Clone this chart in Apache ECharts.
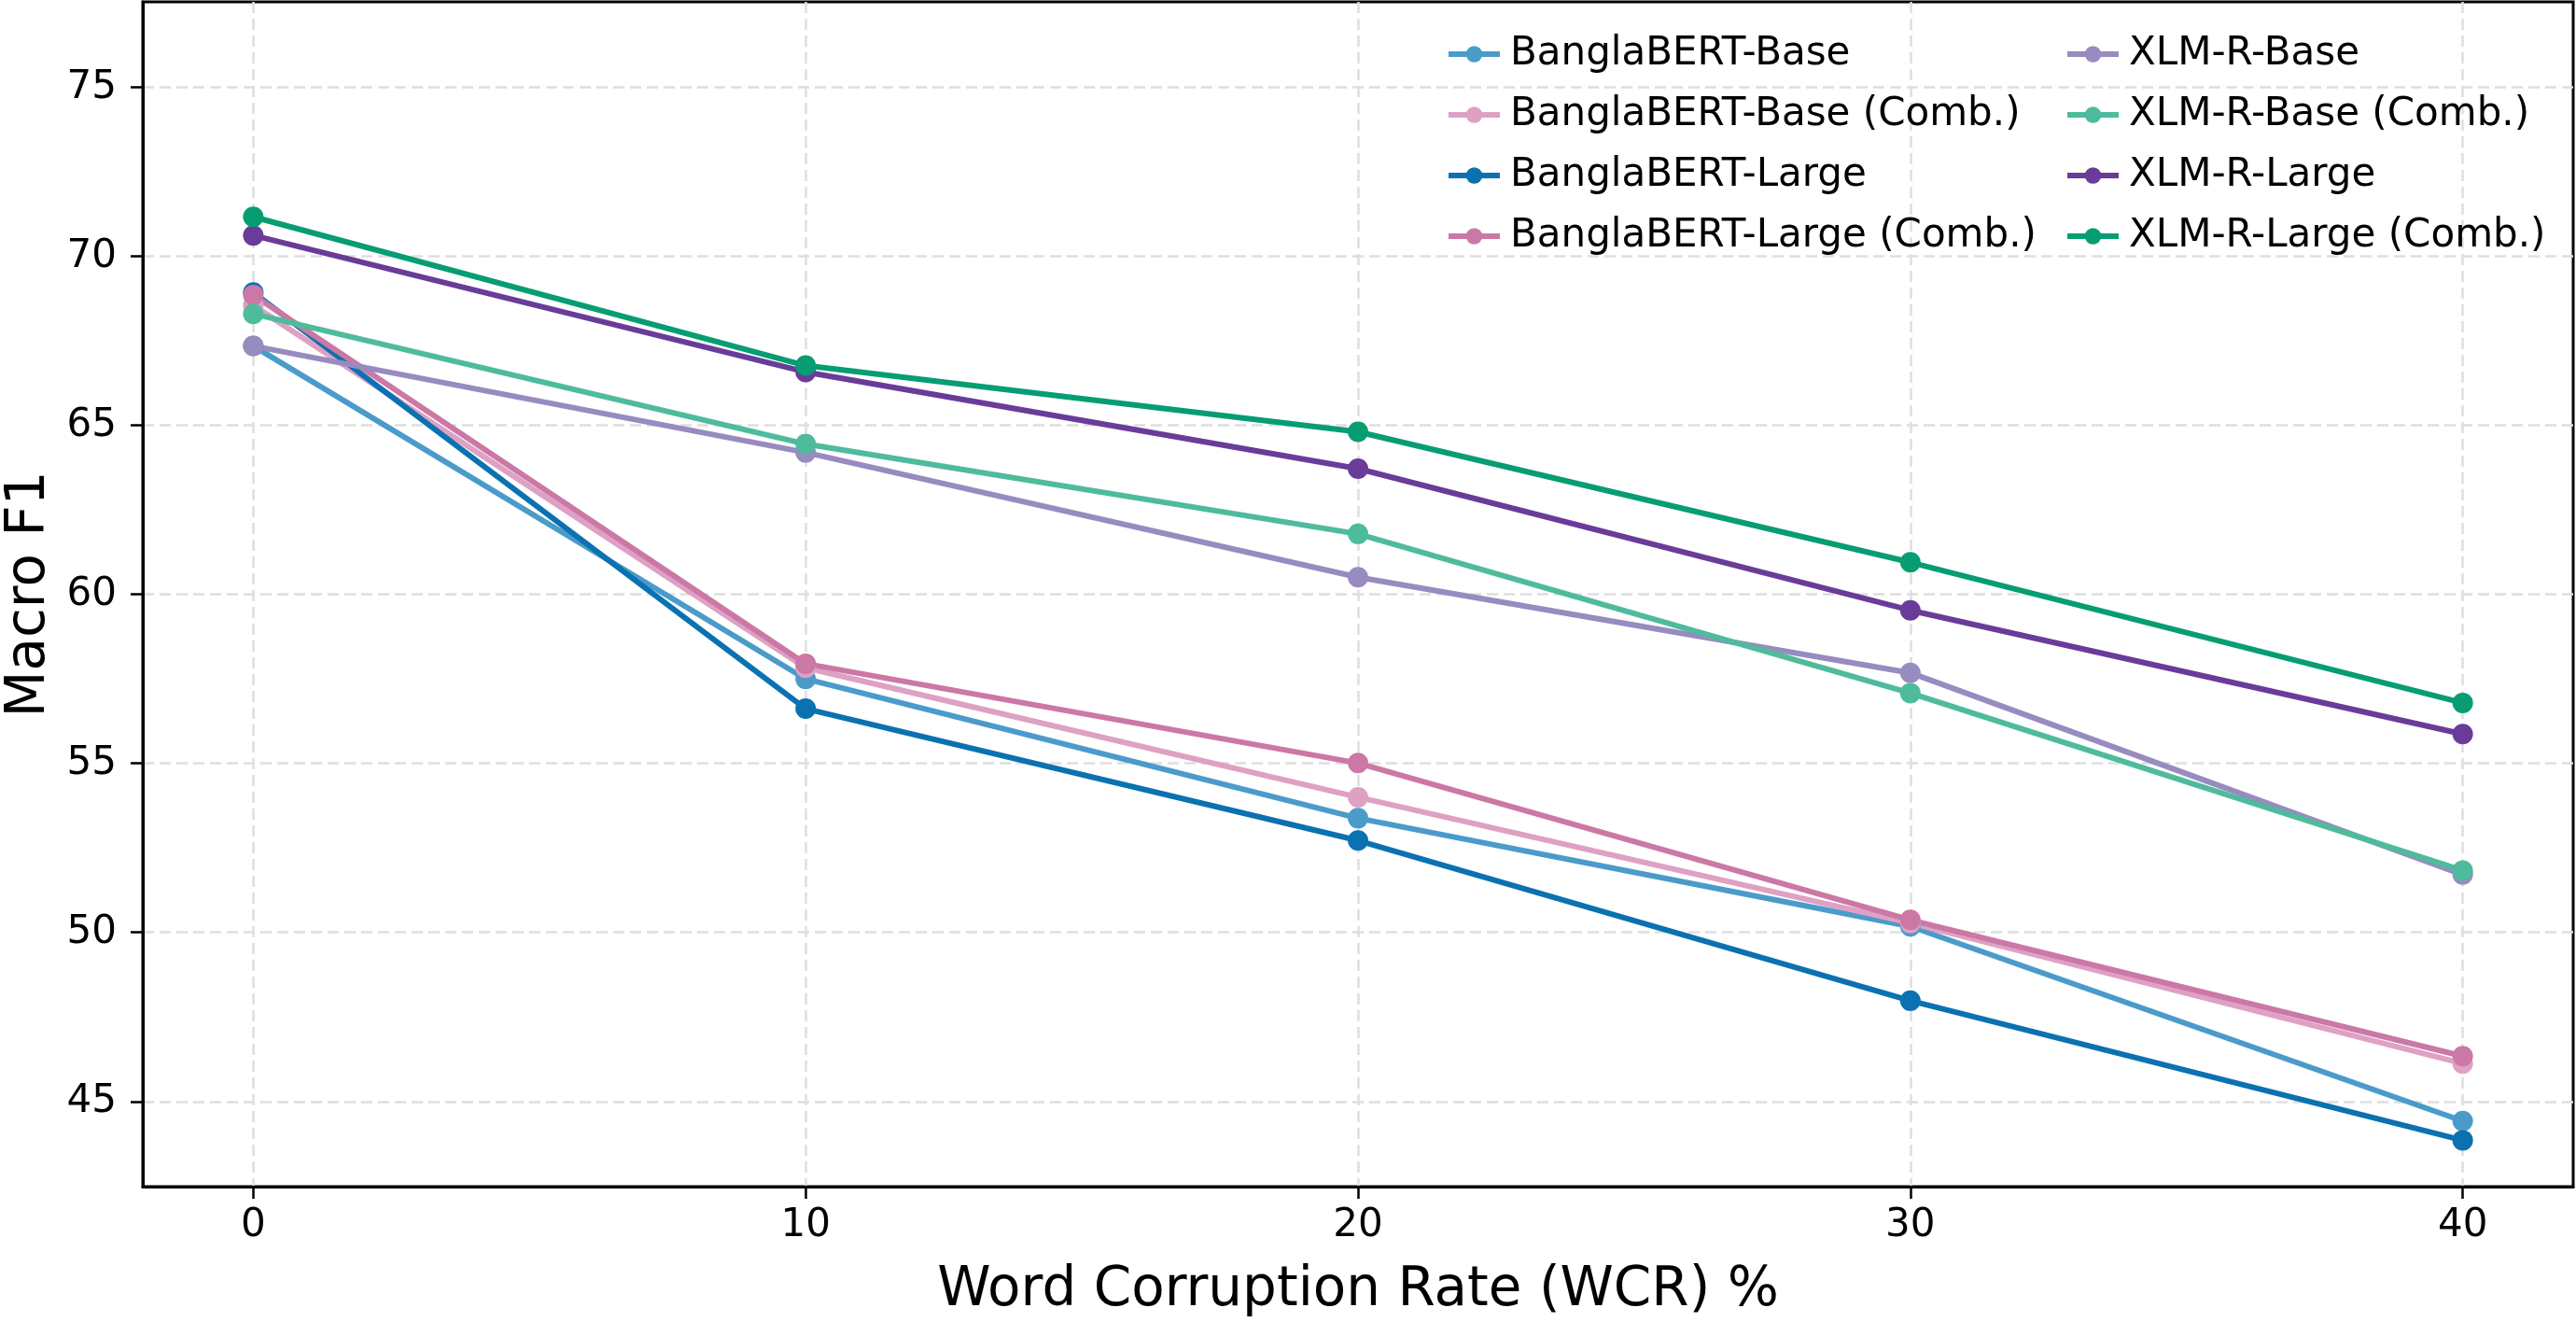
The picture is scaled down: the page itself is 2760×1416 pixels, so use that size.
<!DOCTYPE html>
<html>
<head>
<meta charset="utf-8">
<title>Macro F1 vs Word Corruption Rate</title>
<script src="https://cdn.jsdelivr.net/npm/echarts@6.0.0/dist/echarts.min.js"></script>
<style>
    html, body { margin: 0; padding: 0; background: #fff; }
    #wcr_chart { width: 2760px; height: 1416px; }
</style>
</head>
<body>
<div id="wcr_chart"></div>
<script>
/* ------------------------------------------------------------------------------
 *
 *  # Macro F1 under word corruption - line chart
 *
 * ---------------------------------------------------------------------------- */

// Data
// ------------------------------

var wcrLevels = [0, 10, 20, 30, 40];
var yTickValues = [45, 50, 55, 60, 65, 70, 75];

var seriesNames = [
    'BanglaBERT-Base', 'BanglaBERT-Base (Comb.)',
    'BanglaBERT-Large', 'BanglaBERT-Large (Comb.)',
    'XLM-R-Base', 'XLM-R-Base (Comb.)',
    'XLM-R-Large', 'XLM-R-Large (Comb.)'
];

var banglaBase      = [67.35, 57.50, 53.38, 50.18, 44.42];
var banglaBaseComb  = [68.55, 57.83, 54.00, 50.28, 46.12];
var banglaLarge     = [68.93, 56.62, 52.72, 47.98, 43.85];
var banglaLargeComb = [68.86, 57.95, 55.01, 50.37, 46.34];
var xlmrBase        = [67.35, 64.20, 60.51, 57.68, 51.71];
var xlmrBaseComb    = [68.30, 64.45, 61.79, 57.08, 51.83];
var xlmrLarge       = [70.62, 66.58, 63.72, 59.53, 55.87];
var xlmrLargeComb   = [71.17, 66.77, 64.81, 60.95, 56.79];

var seriesValues = [
    banglaBase, banglaBaseComb, banglaLarge, banglaLargeComb,
    xlmrBase, xlmrBaseComb, xlmrLarge, xlmrLargeComb
];

var seriesColors = [
    '#4b9bca', '#dea1c4', '#0a72b0', '#cb78a6',
    '#988bc0', '#4fbb9d', '#693c99', '#079d72'
];


// Setup module
// ------------------------------

var WcrLineChart = function() {

    var fontFamily = '"DejaVu Sans", sans-serif';

    // Pair each value with its corruption rate
    var toPoints = function(values) {
        return values.map(function(v, i) {
            return [wcrLevels[i], v];
        });
    };

    var _buildSeries = function() {
        return seriesNames.map(function(name, i) {
            return {
                name: name,
                type: 'line',
                data: toPoints(seriesValues[i]),
                symbol: 'circle',
                symbolSize: 22,
                showSymbol: true,
                color: seriesColors[i],
                lineStyle: { width: 6, color: seriesColors[i] },
                itemStyle: { color: seriesColors[i] },
                emphasis: { disabled: true }
            };
        });
    };

    var legendBase = {
        orient: 'vertical',
        top: 31,
        itemWidth: 55,
        itemHeight: 22,
        itemGap: 21,
        lineStyle: { width: 6 },
        textStyle: {
            fontFamily: fontFamily,
            fontSize: 42,
            lineHeight: 44,
            color: '#000',
            padding: [0, 0, 0, 6]
        }
    };

    var gridLineStyle = {
        color: '#dedede',
        width: 2.5,
        type: [12, 6]
    };

    var _lineChart = function() {
        if (typeof echarts == 'undefined') {
            console.warn('Warning - echarts.min.js is not loaded.');
            return;
        }

        var element = document.getElementById('wcr_chart');
        if (!element) {
            return;
        }

        var chart = echarts.init(element, null, { renderer: 'canvas' });

        chart.setOption({
            animation: false,
            backgroundColor: '#fff',
            textStyle: { fontFamily: fontFamily },

            grid: {
                show: true,
                left: 153,
                right: 3,
                top: 2,
                bottom: 145,
                outerBoundsMode: 'none',
                containLabel: false,
                borderColor: '#000',
                borderWidth: 3,
                backgroundColor: 'transparent'
            },

            // Two column legend, column-major like the original
            legend: [
                Object.assign({}, legendBase, { left: 1544, data: seriesNames.slice(0, 4) }),
                Object.assign({}, legendBase, { left: 2207, data: seriesNames.slice(4) })
            ],

            xAxis: {
                type: 'value',
                min: -2,
                max: 42,
                name: 'Word Corruption Rate (WCR) %',
                nameLocation: 'middle',
                nameGap: 83,
                nameTextStyle: { fontFamily: fontFamily, fontSize: 58, color: '#000' },
                axisLine: { show: true, onZero: false, lineStyle: { color: '#000', width: 3 } },
                axisTick: {
                    show: true,
                    length: 13,
                    lineStyle: { color: '#000', width: 2.5 },
                    customValues: wcrLevels
                },
                axisLabel: {
                    margin: 21,
                    fontSize: 42,
                    color: '#000',
                    customValues: wcrLevels
                },
                splitLine: { show: true, lineStyle: gridLineStyle }
            },

            yAxis: {
                type: 'value',
                min: 42.48,
                max: 77.53,
                name: 'Macro F1',
                nameLocation: 'middle',
                nameGap: 88,
                nameTextStyle: { fontFamily: fontFamily, fontSize: 58, color: '#000' },
                axisLine: { show: true, onZero: false, lineStyle: { color: '#000', width: 3 } },
                axisTick: {
                    show: true,
                    length: 13,
                    lineStyle: { color: '#000', width: 2.5 },
                    customValues: yTickValues
                },
                axisLabel: {
                    margin: 28,
                    fontSize: 42,
                    color: '#000',
                    customValues: yTickValues
                },
                splitLine: { show: true, lineStyle: gridLineStyle }
            },

            series: _buildSeries()
        });

        // Resize function
        var resizeTimer;
        window.onresize = function () {
            clearTimeout(resizeTimer);
            resizeTimer = setTimeout(function () {
                chart.resize();
            }, 200);
        };
    };

    return {
        init: function() {
            _lineChart();
        }
    }
}();


// Initialize module
// ------------------------------

document.addEventListener('DOMContentLoaded', function() {
    WcrLineChart.init();
});
</script>
</body>
</html>
